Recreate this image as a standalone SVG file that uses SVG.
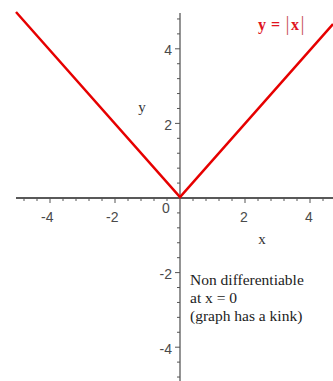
<svg xmlns="http://www.w3.org/2000/svg" width="333" height="381" viewBox="0 0 333 381">
<style>
.ax{stroke:#222;stroke-width:1.4;fill:none}
.ay{stroke:#666;stroke-width:1.4;fill:none}
.tk{stroke:#555;stroke-width:1;fill:none}
.num{font-family:"Liberation Sans",Arial,sans-serif;font-size:14px;fill:#4a4a4a}
.lab{font-family:"Liberation Serif","Times New Roman",serif;font-size:15px;fill:#333}
.note{font-family:"Liberation Serif","Times New Roman",serif;font-size:15.5px;fill:#222}
.curve{stroke:#e60000;stroke-width:2.5;fill:none;stroke-linejoin:miter}
.cl{font-family:"Liberation Serif","Times New Roman",serif;font-size:16px;font-weight:bold;fill:#e0141e}
.bar{font-size:20px;font-weight:normal;fill:#c85a5a}
</style>
<rect width="333" height="381" fill="#fff"/>
<g id="axes">
<path class="ax" d="M16,198H333"/>
<path class="ay" d="M180,13V381"/>
<path class="tk" d="M24,198v3M37,198v3M50,198v5M63,198v3M76,198v3M89,198v3M102,198v3M115,198v5M128,198v3M141,198v3M154,198v3M167,198v3M193,198v3M206,198v3M219,198v3M232,198v3M245,198v5M258,198v3M271,198v3M284,198v3M297,198v3M310,198v5M323,198v3"/>
<path class="tk" d="M180,18.96h-3M180,33.88h-3M180,48.8h-5M180,63.72h-3M180,78.64h-3M180,93.56h-3M180,108.48h-3M180,123.4h-5M180,138.32h-3M180,153.24h-3M180,168.16h-3M180,183.08h-3M180,212.92h-3M180,227.84h-3M180,242.76h-3M180,257.68h-3M180,272.6h-5M180,287.52h-3M180,302.44h-3M180,317.36h-3M180,332.28h-3M180,347.2h-5M180,362.12h-3M180,377.04h-3"/>
</g>
<g id="tick-labels">
<text class="num" x="41" y="222">-4</text>
<text class="num" x="106" y="222">-2</text>
<text class="num" x="162" y="213">0</text>
<text class="num" x="240" y="222">2</text>
<text class="num" x="305" y="222">4</text>
<text class="num" x="172" y="55" text-anchor="end">4</text>
<text class="num" x="172" y="130" text-anchor="end">2</text>
<text class="num" x="172" y="279" text-anchor="end">-2</text>
<text class="num" x="172" y="354" text-anchor="end">-4</text>
</g>
<g id="axis-labels">
<text class="lab" x="262" y="244" text-anchor="middle">x</text>
<text class="lab" x="142" y="112" text-anchor="middle">y</text>
</g>
<g id="curve">
<polyline class="curve" points="16,12 180,197 333,24"/>
</g>
<g id="curve-label">
<text class="cl" y="30"><tspan x="258">y</tspan><tspan x="271">=</tspan><tspan class="bar" x="285.5">|</tspan><tspan x="291">x</tspan><tspan class="bar" x="300.5">|</tspan></text>
</g>
<g id="note">
<text class="note" x="190" y="285">Non differentiable</text>
<text class="note" x="190" y="303">at x = 0</text>
<text class="note" x="190" y="321">(graph has a kink)</text>
</g>
</svg>
